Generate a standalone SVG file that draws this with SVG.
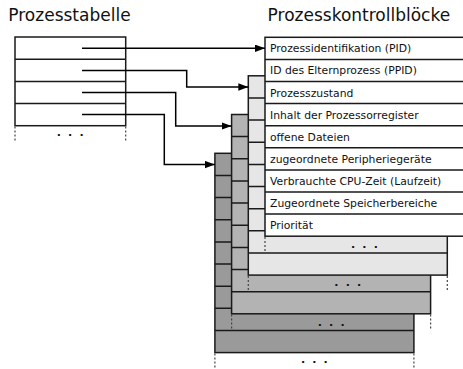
<svg xmlns="http://www.w3.org/2000/svg" width="463" height="369" viewBox="0 0 463 369">
<style>
  .title { font-family: "DejaVu Sans", sans-serif; font-size: 17px; fill: #111; }
  .lbl { font-family: "DejaVu Sans", sans-serif; font-size: 10.8px; fill: #111; }
  .dots { font-family: "DejaVu Sans", sans-serif; font-size: 11px; font-weight: bold; fill: #111; letter-spacing: 1.65px; text-anchor: middle; }
  .box { stroke: #1a1a1a; stroke-width: 1.5; }
  .rows { stroke: #1a1a1a; stroke-width: 1.5; fill: none; }
  .dotted { stroke: #444; stroke-width: 1.2; stroke-dasharray: 2 2; fill: none; }
  .conn { stroke: #000; stroke-width: 1.5; fill: none; marker-end: url(#arrow); }
  .white { fill: #ffffff; }
  .light { fill: #e6e6e6; }
  .mid { fill: #b3b3b3; }
  .dark { fill: #9a9a9a; }
</style>
<defs>
  <marker id="arrow" markerUnits="userSpaceOnUse" markerWidth="11" markerHeight="8" refX="10" refY="3.75" orient="auto">
    <path d="M0,0 L10,3.75 L0,7.5 z" fill="#000"/>
  </marker>
</defs>
<rect width="463" height="369" fill="#fff"/>

<text class="title" x="8.3" y="21">Prozesstabelle</text>
<text class="title" x="267.6" y="21">Prozesskontrollblöcke</text>

<g id="prozesstabelle">
  <rect class="box white" x="15" y="37" width="110.7" height="88.7"/>
  <path class="rows" d="M15,59.2 H125.7 M15,81.4 H125.7 M15,103.5 H125.7"/>
  <path class="dotted" d="M15,126.5 V142 M125.7,126.5 V142"/>
  <text class="dots" x="71" y="136">. . .</text>
</g>

<g id="pcb4">
  <rect class="box dark" x="214.9" y="153.3" width="199" height="199.3"/>
  <path class="rows" d="M214.9,175.4 H413.9 M214.9,197.6 H413.9 M214.9,219.7 H413.9 M214.9,241.9 H413.9 M214.9,264 H413.9 M214.9,286.2 H413.9 M214.9,308.3 H413.9 M214.9,330.5 H413.9"/>
  <path class="dotted" d="M214.9,353.4 V369 M413.9,353.4 V369"/>
  <text class="dots" x="315.2" y="363">. . .</text>
</g>

<g id="pcb3">
  <rect class="box mid" x="231.6" y="114.5" width="199" height="199.3"/>
  <path class="rows" d="M231.6,136.6 H430.6 M231.6,158.8 H430.6 M231.6,180.9 H430.6 M231.6,203.1 H430.6 M231.6,225.2 H430.6 M231.6,247.4 H430.6 M231.6,269.5 H430.6 M231.6,291.7 H430.6"/>
  <path class="dotted" d="M231.6,314.6 V330.5 M430.6,314.6 V330.5"/>
  <text class="dots" x="332" y="325.5">. . .</text>
</g>

<g id="pcb2">
  <rect class="box light" x="248.3" y="75.8" width="199" height="199.3"/>
  <path class="rows" d="M248.3,97.9 H447.3 M248.3,120.1 H447.3 M248.3,142.2 H447.3 M248.3,164.4 H447.3 M248.3,186.5 H447.3 M248.3,208.7 H447.3 M248.3,230.8 H447.3 M248.3,253 H447.3"/>
  <path class="dotted" d="M248.3,275.9 V291.7 M447.3,275.9 V291.7"/>
  <text class="dots" x="348.6" y="286.3">. . .</text>
</g>

<g id="pcb1">
  <rect class="box white" x="265" y="37.3" width="199" height="198.9"/>
  <path class="rows" d="M265,59.4 H464 M265,81.5 H464 M265,103.6 H464 M265,125.7 H464 M265,147.8 H464 M265,169.9 H464 M265,192 H464 M265,214.1 H464"/>
  <path class="dotted" d="M265,237 V253"/>
  <text class="dots" x="365.3" y="247.8">. . .</text>
  <text class="lbl" x="270" y="52.3">Prozessidentifikation (PID)</text>
  <text class="lbl" x="270" y="74.4">ID des Elternprozess (PPID)</text>
  <text class="lbl" x="270" y="96.5">Prozesszustand</text>
  <text class="lbl" x="270" y="118.6">Inhalt der Prozessorregister</text>
  <text class="lbl" x="270" y="140.7">offene Dateien</text>
  <text class="lbl" x="270" y="162.8">zugeordnete Peripheriegeräte</text>
  <text class="lbl" x="270" y="184.9">Verbrauchte CPU-Zeit (Laufzeit)</text>
  <text class="lbl" x="270" y="207">Zugeordnete Speicherbereiche</text>
  <text class="lbl" x="270" y="229.1">Priorität</text>
</g>

<g id="connectors">
  <path class="conn" d="M82,48.3 H265"/>
  <path class="conn" d="M82,70.4 H186.7 V87.1 H248.3"/>
  <path class="conn" d="M82,92.5 H175.7 V126 H231.6"/>
  <path class="conn" d="M82,114.6 H164.3 V164.6 H214.9"/>
</g>
</svg>
